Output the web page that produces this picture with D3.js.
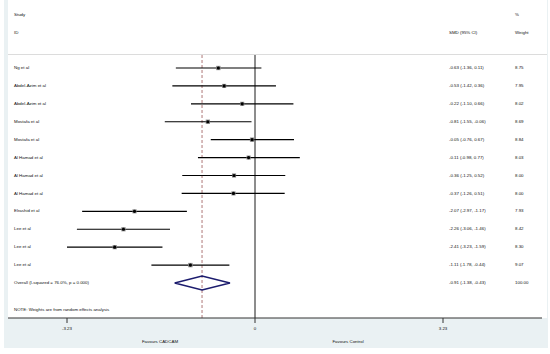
<!DOCTYPE html>
<html>
<head>
<meta charset="utf-8">
<script src="https://cdn.jsdelivr.net/npm/d3@7"></script>
<style>
  html, body { margin: 0; padding: 0; background: #fff; }
  svg { display: block; }
  text { font-family: "Liberation Sans", Arial, sans-serif; fill: #111; }
</style>
</head>
<body>
<svg id="forest" width="550" height="354"></svg>
<script>
// --- data ---
const studies = ['Ng et al', 'Abdel-Azim et al', 'Abdel-Azim et al', 'Mostafa et al', 'Mostafa et al',
    'Al Hamad et al', 'Al Hamad et al', 'Al Hamad et al', 'Elrashid et al', 'Lee et al', 'Lee et al', 'Lee et al'];
const smd = [-0.63, -0.53, -0.22, -0.81, -0.05, -0.11, -0.36, -0.37, -2.07, -2.26, -2.41, -1.11];
const lower = [-1.36, -1.42, -1.10, -1.55, -0.76, -0.98, -1.25, -1.26, -2.97, -3.06, -3.23, -1.78];
const upper = [0.11, 0.36, 0.66, -0.06, 0.67, 0.77, 0.52, 0.51, -1.17, -1.46, -1.59, -0.44];
const weights = [8.75, 7.95, 8.02, 8.69, 8.84, 8.03, 8.00, 8.00, 7.93, 8.42, 8.30, 9.07];

const overallLabel = 'Overall  (I-squared = 76.0%, p = 0.000)';
const overall = { smd: -0.91, lower: -1.38, upper: -0.43, weight: 100.00 };

const xTicks = [-3.23, 0, 3.23];
const xTickLabels = ['-3.23', '0', '3.23'];
const axisTitles = ['Favours CADCAM', 'Favours Control'];
const note = 'NOTE: Weights are from random effects analysis';

// format Stata : tiret simple, pas le signe moins unicode
const fmt = v => d3.format('.2f')(v).replace('\u2212', '-');
const ciText = (m, lo, hi) => `${fmt(m)} (${fmt(lo)}, ${fmt(hi)})`;

const svg = d3.select('#forest');
const fs = 4.4;

// fond bleuté (graph region) + zone blanche
svg.append('rect').attr('x', 4).attr('y', 0).attr('width', 544).attr('height', 348).attr('fill', '#eaf1f3');
svg.append('rect').attr('x', 8).attr('y', 0).attr('width', 539).attr('height', 318).attr('fill', '#fff');

const x = d3.scaleLinear().domain([-3.23, 3.23]).range([67, 443]);
const rowIdx = d3.range(studies.length + 1);
const y = d3.scalePoint().domain(rowIdx).range([68, 283]);
const boxSize = d3.scaleSqrt().domain([0, 10]).range([0, 4.6]);

const colLabel = 14, colCI = 449, colW = 515;

// --- en-têtes ---
const header = svg.append('g').attr('font-size', fs);
header.append('text').attr('x', colLabel).attr('y', 16).text('Study');
header.append('text').attr('x', colLabel).attr('y', 34).text('ID');
header.append('text').attr('x', colW).attr('y', 16).text('%');
header.append('text').attr('x', colCI).attr('y', 34).text('SMD (95% CI)');
header.append('text').attr('x', colW).attr('y', 34).text('Weight');

svg.append('line').attr('x1', 8).attr('x2', 547).attr('y1', 54.5).attr('y2', 54.5)
    .attr('stroke', '#dcdcdc').attr('stroke-width', 1);

// --- lignes de référence ---
svg.append('line').attr('x1', x(0)).attr('x2', x(0)).attr('y1', 55).attr('y2', 318)
    .attr('stroke', '#000').attr('stroke-width', 0.9);
svg.append('line').attr('x1', x(overall.smd)).attr('x2', x(overall.smd)).attr('y1', 55).attr('y2', 318)
    .attr('stroke', '#9b5656').attr('stroke-width', 0.8).attr('stroke-dasharray', '3,2');

// --- études ---
const rows = studies.map((s, i) => ({ s, m: smd[i], lo: lower[i], hi: upper[i], w: weights[i], i }));
const g = svg.append('g');

g.selectAll('line.ci').data(rows).join('line')
    .attr('class', 'ci')
    .attr('x1', d => x(d.lo)).attr('x2', d => x(d.hi))
    .attr('y1', d => y(d.i)).attr('y2', d => y(d.i))
    .attr('stroke', '#000').attr('stroke-width', 1.1);

g.selectAll('rect.box').data(rows).join('rect')
    .attr('class', 'box')
    .attr('x', d => x(d.m) - boxSize(d.w) / 2).attr('y', d => y(d.i) - boxSize(d.w) / 2)
    .attr('width', d => boxSize(d.w)).attr('height', d => boxSize(d.w))
    .attr('fill', '#8a8a8a');

g.selectAll('circle.pt').data(rows).join('circle')
    .attr('class', 'pt')
    .attr('cx', d => x(d.m)).attr('cy', d => y(d.i)).attr('r', 1.6)
    .attr('fill', '#000');

const labels = svg.append('g').attr('font-size', fs).attr('dominant-baseline', 'middle');
labels.selectAll('text.st').data(rows).join('text')
    .attr('x', colLabel).attr('y', d => y(d.i)).text(d => d.s);
labels.selectAll('text.ci').data(rows).join('text')
    .attr('x', colCI).attr('y', d => y(d.i)).text(d => ciText(d.m, d.lo, d.hi));
labels.selectAll('text.w').data(rows).join('text')
    .attr('x', colW).attr('y', d => y(d.i)).text(d => fmt(d.w));

// --- résultat global ---
const oy = y(studies.length);
const dh = 7;
svg.append('path')
    .attr('d', `M${x(overall.lower)},${oy} L${x(overall.smd)},${oy - dh} L${x(overall.upper)},${oy} L${x(overall.smd)},${oy + dh} Z`)
    .attr('fill', 'none').attr('stroke', '#1c1c6e').attr('stroke-width', 1.4);
labels.append('text').attr('x', colLabel).attr('y', oy).text(overallLabel);
labels.append('text').attr('x', colCI).attr('y', oy).text(ciText(overall.smd, overall.lower, overall.upper));
labels.append('text').attr('x', colW).attr('y', oy).text(fmt(overall.weight));

labels.append('text').attr('x', colLabel).attr('y', 310).text(note);

// --- axe ---
const axis = svg.append('g').attr('transform', 'translate(0,318)');
axis.append('line').attr('x1', 8).attr('x2', 542).attr('stroke', '#333').attr('stroke-width', 1);
axis.selectAll('line.tick').data(xTicks).join('line')
    .attr('class', 'tick')
    .attr('x1', d => x(d)).attr('x2', d => x(d)).attr('y1', 0).attr('y2', 5)
    .attr('stroke', '#333').attr('stroke-width', 1);
axis.selectAll('text.tl').data(xTicks).join('text')
    .attr('class', 'tl')
    .attr('x', d => x(d)).attr('y', 12).attr('text-anchor', 'middle').attr('font-size', fs)
    .text((d, i) => xTickLabels[i]);

svg.append('text').attr('x', 160).attr('y', 343).attr('text-anchor', 'middle').attr('font-size', fs).text(axisTitles[0]);
svg.append('text').attr('x', 348).attr('y', 343).attr('text-anchor', 'middle').attr('font-size', fs).text(axisTitles[1]);
</script>
</body>
</html>
